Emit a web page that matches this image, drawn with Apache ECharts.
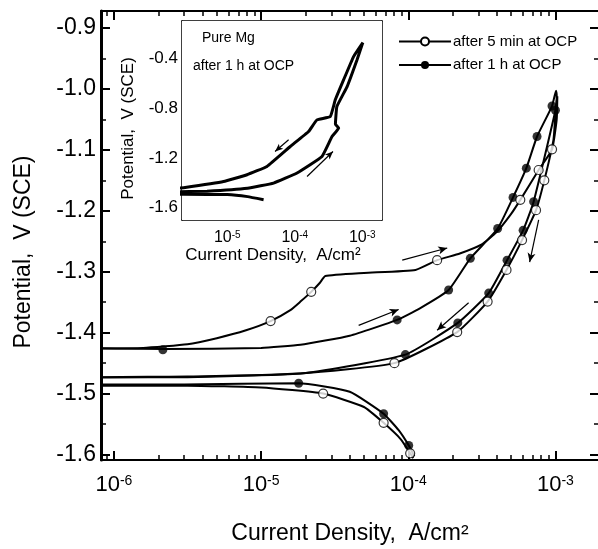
<!DOCTYPE html>
<html>
<head>
<meta charset="utf-8">
<script src="https://cdn.jsdelivr.net/npm/echarts@6/dist/echarts.min.js"></script>
<style>html,body{margin:0;padding:0;background:#fff}#c{width:598px;height:549px}</style>
</head>
<body>
<div id="c"></div>
<script>
// ---------------- DATA (current density A/cm^2, potential V vs SCE) ----------------
const seriesNames = ['after 5 min at OCP', 'after 1 h at OCP'];

// after 5 min at OCP: forward scan -> top -> reverse scan -> cathodic branch
const min5Curve = [
  [5.0e-7,-1.426],[1.58e-6,-1.425],[3.16e-6,-1.419],[5.0e-6,-1.409],[7.9e-6,-1.396],[1.16e-5,-1.381],
  [1.58e-5,-1.363],[1.85e-5,-1.349],[2.19e-5,-1.333],[2.51e-5,-1.318],[2.73e-5,-1.307],[5.0e-5,-1.302],
  [1.12e-4,-1.297],[1.57e-4,-1.281],[2.24e-4,-1.270],[3.16e-4,-1.255],[3.98e-4,-1.235],[5.0e-4,-1.205],
  [5.77e-4,-1.182],[7.69e-4,-1.133],[9.48e-4,-1.099],[1.02e-3,-1.050],[1.03e-3,-1.012],
  [1.0e-3,-1.040],[9.7e-4,-1.083],[8.4e-4,-1.150],[7.38e-4,-1.199],[5.93e-4,-1.248],[4.65e-4,-1.297],
  [3.46e-4,-1.349],[2.15e-4,-1.399],[8.05e-5,-1.450],[1.85e-5,-1.467],[3.16e-6,-1.473],[5.0e-7,-1.475],
  [5.0e-7,-1.487],[3.16e-6,-1.487],[1.0e-5,-1.490],[2.64e-5,-1.500],[5.0e-5,-1.522],[6.8e-5,-1.548],
  [8.9e-5,-1.575],[1.03e-4,-1.598],[1.08e-4,-1.606]
];
const min5Markers = [
  [1.16e-5,-1.381],[2.19e-5,-1.333],[1.57e-4,-1.281],[5.77e-4,-1.182],[7.69e-4,-1.133],[9.48e-4,-1.099],
  [8.4e-4,-1.150],[7.38e-4,-1.199],[5.93e-4,-1.248],[4.65e-4,-1.297],[3.46e-4,-1.349],[2.15e-4,-1.399],
  [8.05e-5,-1.450],[2.64e-5,-1.500],[6.8e-5,-1.548],[1.03e-4,-1.598]
];

// after 1 h at OCP
const h1Curve = [
  [5.0e-7,-1.425],[2.15e-6,-1.427],[1.0e-5,-1.425],[1.85e-5,-1.420],[4.0e-5,-1.405],[8.4e-5,-1.379],
  [1.2e-4,-1.360],[1.88e-4,-1.330],[2.64e-4,-1.278],[4.05e-4,-1.229],[5.15e-4,-1.178],[6.34e-4,-1.130],
  [7.5e-4,-1.078],[9.48e-4,-1.028],[1.01e-3,-1.003],
  [1.02e-3,-1.010],[1.0e-3,-1.035],[7.11e-4,-1.185],[6.03e-4,-1.232],[4.69e-4,-1.281],[3.52e-4,-1.335],
  [2.17e-4,-1.384],[9.55e-5,-1.436],[2.0e-5,-1.466],[3.16e-6,-1.472],[5.0e-7,-1.474],
  [5.0e-7,-1.485],[3.0e-6,-1.485],[1.8e-5,-1.483],[4.0e-5,-1.497],[6.8e-5,-1.533],[8.6e-5,-1.560],
  [1.007e-4,-1.585],[1.1e-4,-1.603]
];
const h1Markers = [
  [2.15e-6,-1.428],[8.4e-5,-1.379],[1.88e-4,-1.330],[2.64e-4,-1.278],[4.05e-4,-1.229],[5.15e-4,-1.178],
  [6.34e-4,-1.130],[7.5e-4,-1.078],[9.48e-4,-1.028],[1.0e-3,-1.035],[7.11e-4,-1.185],[6.03e-4,-1.232],
  [4.69e-4,-1.281],[3.52e-4,-1.335],[2.17e-4,-1.384],[9.55e-5,-1.436],[1.8e-5,-1.483],[6.8e-5,-1.533],
  [1.007e-4,-1.585]
];

// scan-direction arrows in main plot: [I_from, V_from, I_to, V_to]
const mainArrows = [
  [9.1e-5,-1.281,1.84e-4,-1.261],
  [4.6e-5,-1.388,8.6e-5,-1.362],
  [2.57e-4,-1.351,1.57e-4,-1.396],
  [7.69e-4,-1.215,6.68e-4,-1.284]
];

// inset: pure Mg after 1 h at OCP
const insetCurve = [
  [1.5e-6,-1.475],[5.0e-6,-1.468],[2.0e-5,-1.445],[4.85e-5,-1.403],[1.08e-4,-1.322],[2.53e-4,-1.189],
  [3.56e-4,-1.029],[4.47e-4,-0.961],[4.0e-4,-0.930],[4.2e-4,-0.788],[5.96e-4,-0.627],[8.34e-4,-0.413],
  [9.9e-4,-0.293],[1.02e-3,-0.274],
  [7.43e-4,-0.386],[5.28e-4,-0.574],[3.98e-4,-0.734],[3.36e-4,-0.868],[2.13e-4,-0.895],[1.6e-4,-0.988],
  [8.57e-5,-1.109],[3.87e-5,-1.269],[1.96e-5,-1.336],[8.8e-6,-1.390],[2.25e-6,-1.440],[1.5e-6,-1.451],
  [1.5e-6,-1.491],[1.0e-5,-1.495],[2.0e-5,-1.512],[3.45e-5,-1.537]
];
const insetArrows = [
  [8.1e-5,-1.055,5.1e-5,-1.149],
  [1.52e-4,-1.350,3.68e-4,-1.149]
];

// axis ticks
const mainXMajor = [-6,-5,-4,-3];
const mainYMajor = [-1.6,-1.5,-1.4,-1.3,-1.2,-1.1,-1.0,-0.9];
const mainYMinor = [-1.55,-1.45,-1.35,-1.25,-1.15,-1.05,-0.95];
const insetXMajor = [-5,-4,-3];
const insetYLabels = [-1.6,-1.2,-0.8,-0.4];
const insetYTicks = [-1.6,-1.4,-1.2,-1.0,-0.8,-0.6,-0.4,-0.2];

// ---------------- CHART ----------------
const FONT = '"Liberation Sans", Arial, sans-serif';
const lg = v => Math.log10(v);
function minorLog(lo, hi) {
  const out = [];
  for (let n = -8; n <= -2; n++) for (let k = 2; k <= 9; k++) {
    const v = n + Math.log10(k);
    if (v > lo && v < hi) out.push(v);
  }
  return out;
}
const MX = [-6.088, -2.704], MY = [-1.609, -0.872];
const IX = [-5.671, -2.708], IY = [-1.7, -0.1];

function xAx(grid, ext, pos, opts) {
  return Object.assign({
    type: 'value', gridIndex: grid, position: pos, min: ext[0], max: ext[1],
    splitLine: {show: false},
    axisLine: {show: false},
    axisTick: {show: false},
    axisLabel: {show: false}
  }, opts);
}
const black = '#000';
const supRich = (b, s) => ({
  b: {fontSize: b, fontFamily: FONT, color: black},
  s: {fontSize: s, fontFamily: FONT, color: black, verticalAlign: 'top'}
});

const chart = echarts.init(document.getElementById('c'), null, {renderer: 'canvas'});

const xAxes = [
  // main grid
  xAx(0, MX, 'bottom', {
    axisLine: {show: true, onZero: false, lineStyle: {color: black, width: 2}},
    axisTick: {show: true, inside: true, length: 9, customValues: mainXMajor, lineStyle: {color: black, width: 2}},
    axisLabel: {show: true, customValues: mainXMajor, margin: 14,
      formatter: v => '{b|10}{s|' + Math.round(v) + '}', rich: supRich(22, 14)},
    name: 'Current Density,  A/cm²', nameLocation: 'middle', nameGap: 62,
    nameTextStyle: {fontSize: 23, fontFamily: FONT, color: black}
  }),
  xAx(0, MX, 'bottom', {
    axisTick: {show: true, inside: true, length: 5, customValues: minorLog(MX[0], MX[1]), lineStyle: {color: black, width: 1.5}}
  }),
  xAx(0, MX, 'top', {
    axisLine: {show: true, onZero: false, lineStyle: {color: black, width: 2}},
    axisTick: {show: true, inside: true, length: 9, customValues: mainXMajor, lineStyle: {color: black, width: 2}}
  }),
  xAx(0, MX, 'top', {
    axisTick: {show: true, inside: true, length: 5, customValues: minorLog(MX[0], MX[1]), lineStyle: {color: black, width: 1.5}}
  }),
  // inset grid
  xAx(1, IX, 'bottom', {
    axisLine: {show: true, onZero: false, lineStyle: {color: black, width: 1.5}},
    axisTick: {show: true, inside: true, length: 5, customValues: insetXMajor, lineStyle: {color: black, width: 1}},
    axisLabel: {show: true, customValues: insetXMajor, margin: 10,
      formatter: v => '{b|10}{s|' + Math.round(v) + '}', rich: supRich(16, 10)},
    name: 'Current Density,  A/cm²', nameLocation: 'middle', nameGap: 27,
    nameTextStyle: {fontSize: 17, fontFamily: FONT, color: black, padding: [0, 18, 0, 0]}
  }),
  xAx(1, IX, 'bottom', {
    axisTick: {show: true, inside: true, length: 3, customValues: minorLog(IX[0], IX[1]), lineStyle: {color: black, width: 1}}
  }),
  xAx(1, IX, 'top', {
    axisLine: {show: true, onZero: false, lineStyle: {color: black, width: 1.5}},
    axisTick: {show: true, inside: true, length: 3, customValues: insetXMajor.concat(minorLog(IX[0], IX[1])), lineStyle: {color: black, width: 1}}
  })
];
const yAxes = [
  xAx(0, MY, 'left', {
    axisLine: {show: true, onZero: false, lineStyle: {color: black, width: 3}},
    axisTick: {show: true, inside: true, length: 9, customValues: mainYMajor, lineStyle: {color: black, width: 2}},
    axisLabel: {show: true, customValues: mainYMajor, margin: 5, fontSize: 23, fontFamily: FONT, color: black,
      formatter: v => v.toFixed(1)},
    name: 'Potential,  V (SCE)', nameLocation: 'middle', nameGap: 66, nameRotate: 90,
    nameTextStyle: {fontSize: 23, fontFamily: FONT, color: black, padding: [0, 33, 0, 0]}
  }),
  xAx(0, MY, 'left', {
    axisTick: {show: true, inside: true, length: 5, customValues: mainYMinor, lineStyle: {color: black, width: 1.5}}
  }),
  xAx(0, MY, 'right', {
    axisTick: {show: true, inside: true, length: 9, customValues: mainYMajor, lineStyle: {color: black, width: 2}}
  }),
  xAx(0, MY, 'right', {
    axisTick: {show: true, inside: true, length: 5, customValues: mainYMinor, lineStyle: {color: black, width: 1.5}}
  }),
  xAx(1, IY, 'left', {
    axisLine: {show: true, onZero: false, lineStyle: {color: black, width: 1.5}},
    axisTick: {show: true, inside: true, length: 3, customValues: insetYTicks, lineStyle: {color: black, width: 1}},
    axisLabel: {show: true, customValues: insetYLabels, margin: 4, fontSize: 17, fontFamily: FONT, color: black,
      formatter: v => v.toFixed(1)},
    name: 'Potential,  V (SCE)', nameLocation: 'middle', nameGap: 45, nameRotate: 90,
    nameTextStyle: {fontSize: 17, fontFamily: FONT, color: black, padding: [0, 16, 0, 0]}
  }),
  xAx(1, IY, 'right', {
    axisLine: {show: true, onZero: false, lineStyle: {color: black, width: 1.5}},
    axisTick: {show: true, inside: true, length: 3, customValues: insetYTicks, lineStyle: {color: black, width: 1}}
  })
];

const toXY = arr => arr.map(p => [lg(p[0]), p[1]]);
const arrowData = arr => arr.map(a => [{coord: [lg(a[0]), a[1]]}, {coord: [lg(a[2]), a[3]]}]);
const markArrows = (arr, size) => ({
  silent: true, animation: false, symbol: ['none', 'arrow'], symbolSize: size,
  label: {show: false}, emphasis: {disabled: true},
  lineStyle: {color: black, width: 1.2, type: 'solid'},
  itemStyle: {color: black},
  data: arrowData(arr)
});

const option = {
  animation: false,
  backgroundColor: '#fff',
  textStyle: {fontFamily: FONT},
  grid: [
    {left: 101, top: 11, width: 498, height: 449, outerBoundsMode: 'none', containLabel: false},
    {left: 182, top: 21, width: 200, height: 199, outerBoundsMode: 'none', containLabel: false,
      show: true, backgroundColor: '#fff', borderWidth: 0, z: 5}
  ],
  xAxis: xAxes,
  yAxis: yAxes,
  legend: {
    orient: 'vertical', left: 398, top: 34, padding: 0, itemWidth: 52, itemHeight: 10, itemGap: 8.5,
    selectedMode: false, data: seriesNames,
    textStyle: {fontSize: 15, fontFamily: FONT, color: black, padding: [0, 0, 0, -3]}
  },
  graphic: [
    {type: 'text', left: 202, top: 31, z: 100, style: {text: 'Pure Mg', font: '14px ' + FONT, fill: black}},
    {type: 'text', left: 193, top: 59, z: 100, style: {text: 'after 1 h at OCP', font: '14px ' + FONT, fill: black}}
  ],
  series: [
    {name: seriesNames[0], type: 'line', xAxisIndex: 0, yAxisIndex: 0, data: toXY(min5Curve),
      symbol: 'emptyCircle', showSymbol: false, smooth: 0.15, color: black,
      lineStyle: {color: black, width: 2}, itemStyle: {color: black}, z: 2,
      markLine: markArrows(mainArrows, [6, 9])},
    {name: seriesNames[1], type: 'line', xAxisIndex: 0, yAxisIndex: 0, data: toXY(h1Curve),
      symbol: 'circle', showSymbol: false, smooth: 0.15, color: black,
      lineStyle: {color: black, width: 2}, itemStyle: {color: black}, z: 2},
    {name: seriesNames[0], type: 'scatter', xAxisIndex: 0, yAxisIndex: 0, data: toXY(min5Markers),
      symbol: 'circle', symbolSize: 9, itemStyle: {color: '#fff', borderColor: black, borderWidth: 1.2}, z: 4},
    {name: seriesNames[1], type: 'scatter', xAxisIndex: 0, yAxisIndex: 0, data: toXY(h1Markers),
      symbol: 'circle', symbolSize: 9, itemStyle: {color: black}, z: 3},
    {name: 'inset', type: 'line', xAxisIndex: 4, yAxisIndex: 4, data: toXY(insetCurve),
      showSymbol: false, symbol: 'none', smooth: 0.1, lineStyle: {color: black, width: 3}, z: 10,
      markLine: markArrows(insetArrows, [5, 8])}
  ]
};
chart.setOption(option);
</script>
</body>
</html>
